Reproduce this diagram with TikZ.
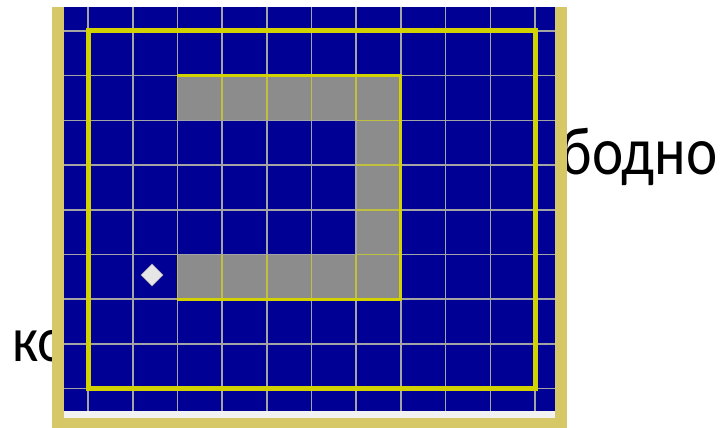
\documentclass[tikz,border=0pt]{standalone}
\usepackage{fontspec}
\setmainfont{Carlito}
\usetikzlibrary{positioning}
\definecolor{navy}{HTML}{000094}
\definecolor{cellgray}{HTML}{8C8C8C}
\definecolor{gridgray}{HTML}{A4A4A4}
\definecolor{olive}{HTML}{C0C040}
\definecolor{ylw}{HTML}{D2D200}
\definecolor{khaki}{HTML}{D6C866}
\definecolor{offwhite}{HTML}{F2F2F2}
\definecolor{marker}{HTML}{E6E6E6}

\begin{document}
\begin{tikzpicture}[x=1pt, y=-1pt]

% Canvas: 724 x 428, y counted downward like the screenshot
\useasboundingbox (0,0) rectangle (724,428);

\pgfmathsetmacro{\cell}{44.7}   % grid step
\pgfmathsetmacro{\gx}{88}       % first vertical line
\pgfmathsetmacro{\gy}{31}       % first horizontal line

% Slide text lying behind the panel
\node[font=\fontsize{68}{80}\selectfont, anchor=base east, inner sep=0pt]
  (textright) at (718,175) {\scalebox{0.87}[1]{ободно}};
\node[font=\fontsize{64}{76}\selectfont, anchor=base west, inner sep=0pt]
  (textleft) at (12,361) {\scalebox{0.88}[1]{ко}};

% Panel frame
\fill[khaki] (52,7) rectangle (567,428);
\fill[navy] (64,7) rectangle (555,411);
\fill[offwhite] (64,411) rectangle (555,418);

% Gray cells: top row, right column, bottom row
\fill[cellgray] (\gx+2*\cell,\gy+1*\cell) rectangle (\gx+7*\cell,\gy+2*\cell);
\fill[cellgray] (\gx+6*\cell,\gy+2*\cell) rectangle (\gx+7*\cell,\gy+5*\cell);
\fill[cellgray] (\gx+2*\cell,\gy+5*\cell) rectangle (\gx+7*\cell,\gy+6*\cell);

% Grid lines
\foreach \k in {0,...,10}
  \draw[gridgray, line width=1.6pt] (\gx+\k*\cell,7) -- (\gx+\k*\cell,411);
\foreach \k in {0,...,8}
  \draw[gridgray, line width=1.6pt] (64,\gy+\k*\cell) -- (555,\gy+\k*\cell);

% Thin lines inside the gray cells
\foreach \k in {2,...,7} {
  \draw[olive, line width=1.6pt] (\gx+\k*\cell,\gy+1*\cell) -- (\gx+\k*\cell,\gy+2*\cell);
  \draw[olive, line width=1.6pt] (\gx+\k*\cell,\gy+5*\cell) -- (\gx+\k*\cell,\gy+6*\cell);
}
\foreach \k in {2,...,5}
  \draw[olive, line width=1.6pt] (\gx+6*\cell,\gy+\k*\cell) -- (\gx+7*\cell,\gy+\k*\cell);

% Outline of the gray cells
\draw[ylw, line width=3pt]
  (\gx+2*\cell,\gy+1*\cell) -- (\gx+7*\cell,\gy+1*\cell)
  -- (\gx+7*\cell,\gy+6*\cell) -- (\gx+2*\cell,\gy+6*\cell);

% Thick border
\draw[ylw, line width=5pt] (\gx,\gy) rectangle (\gx+10*\cell,\gy+8*\cell);

% Diamond marker
\fill[marker, draw=gridgray, line width=0.6pt]
  (152,264) -- (163,275) -- (152,286) -- (141,275) -- cycle;

\end{tikzpicture}
\end{document}
